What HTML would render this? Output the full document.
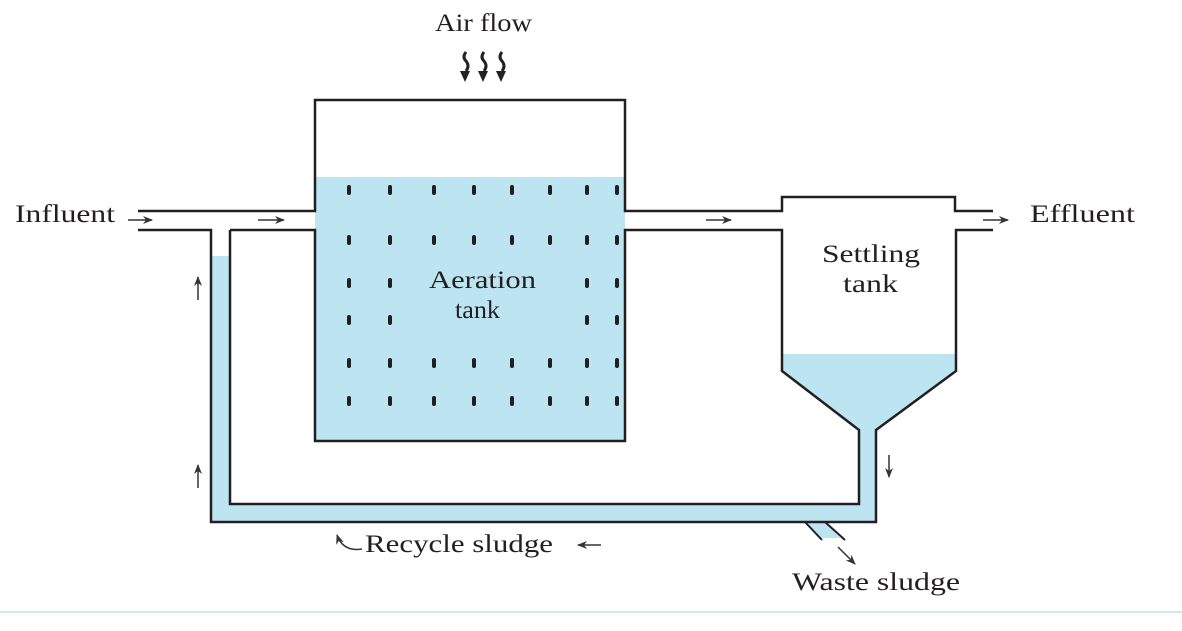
<!DOCTYPE html>
<html><head><meta charset="utf-8"><style>
html,body{margin:0;padding:0;background:#fff;}
svg text{font-family:"Liberation Serif",serif;fill:#231f20;}
</style></head><body>
<svg width="1182" height="626" viewBox="0 0 1182 626" xmlns="http://www.w3.org/2000/svg">
<defs>
<marker id="ah" markerWidth="10" markerHeight="8" refX="9" refY="4" orient="auto" markerUnits="userSpaceOnUse">
<path d="M0,0 L10,4 L0,8 L3,4 Z" fill="#333"/>
</marker>
</defs>
<g fill="#bde4f1" stroke="none">
<rect x="315" y="177" width="310" height="264"/>
<rect x="315" y="211" width="10" height="19"/>
<path d="M782,354 H956 V371 L876,430 V522 H211 V256 H230 V504 H859 V430 L782,371 Z"/>
<path d="M805,522 L820,538 H840 L825,522 Z"/>
</g>
<g fill="none" stroke="#231f20" stroke-width="2.5">
<path d="M138,211 H315 V100 H625 V211 H782 V197 H955 V211 H993"/>
<path d="M138,230 H211 V522 H876 V430 L956,371 V230 H993"/>
<path d="M230,230 V504 H859 V430 L782,371 V230 H625 V441 H315 V230 H230"/>
<path d="M805,522 L822,540 M825,522 L845,540" stroke-width="2"/>
</g>
<g fill="#231f20">
<g id="r">
<rect x="347" y="185" width="4" height="10" rx="2"/><rect x="388" y="185" width="4" height="10" rx="2"/><rect x="432" y="185" width="4" height="10" rx="2"/><rect x="472" y="185" width="4" height="10" rx="2"/><rect x="510" y="185" width="4" height="10" rx="2"/><rect x="548" y="185" width="4" height="10" rx="2"/><rect x="585" y="185" width="4" height="10" rx="2"/><rect x="615" y="185" width="4" height="10" rx="2"/>
</g>
<use href="#r" y="50"/>
<use href="#r" y="173"/>
<use href="#r" y="211"/>
<rect x="347" y="278" width="4" height="10" rx="2"/><rect x="388" y="278" width="4" height="10" rx="2"/><rect x="585" y="278" width="4" height="10" rx="2"/><rect x="615" y="278" width="4" height="10" rx="2"/>
<rect x="347" y="315" width="4" height="10" rx="2"/><rect x="388" y="315" width="4" height="10" rx="2"/><rect x="585" y="315" width="4" height="10" rx="2"/><rect x="615" y="315" width="4" height="10" rx="2"/>
</g>
<g stroke="#333" stroke-width="1.5" fill="none" marker-end="url(#ah)">
<path d="M128,220 H152"/>
<path d="M258,220 H284"/>
<path d="M706,220 H731"/>
<path d="M983,220 H1008"/>
<path d="M198,300 V277"/>
<path d="M198,488 V465"/>
<path d="M889,455 V477"/>
<path d="M601,545 H578"/>
<path d="M838,547 L855,564"/>
<path d="M362,549 Q343,552 337,535"/>
</g>
<g stroke="#222" stroke-width="3" fill="none">
<path d="M466,52 q-4,5 0,9 q4,5 0,10"/><path d="M484,52 q-4,5 0,9 q4,5 0,10"/><path d="M502,52 q-4,5 0,9 q4,5 0,10"/>
</g>
<g fill="#222"><path d="M460,71 h10 l-5,11z"/><path d="M478,71 h10 l-5,11z"/><path d="M496,71 h10 l-5,11z"/></g>
<g font-size="25">
<text x="435" y="31" textLength="97" lengthAdjust="spacingAndGlyphs">Air flow</text>
<text x="15" y="222" textLength="100" lengthAdjust="spacingAndGlyphs">Influent</text>
<text x="1030" y="222" textLength="105" lengthAdjust="spacingAndGlyphs">Effluent</text>
<text x="429" y="288" textLength="107" lengthAdjust="spacingAndGlyphs">Aeration</text>
<text x="455" y="318" textLength="45" lengthAdjust="spacingAndGlyphs">tank</text>
<text x="822" y="262" textLength="98" lengthAdjust="spacingAndGlyphs">Settling</text>
<text x="843" y="292" textLength="55" lengthAdjust="spacingAndGlyphs">tank</text>
<text x="365" y="552" textLength="188" lengthAdjust="spacingAndGlyphs">Recycle sludge</text>
<text x="792" y="590" textLength="168" lengthAdjust="spacingAndGlyphs">Waste sludge</text>
</g>
<line x1="0" y1="612" x2="1182" y2="612" stroke="#9fd3dd" stroke-width="1"/>
</svg>
</body></html>
